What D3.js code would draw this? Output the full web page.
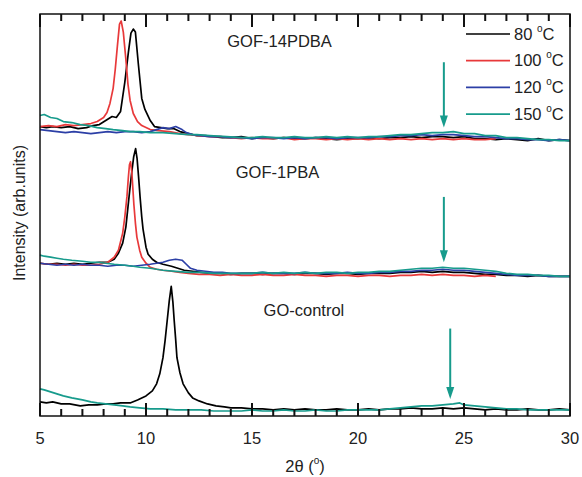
<!DOCTYPE html>
<html>
<head>
<meta charset="utf-8">
<script src="https://cdn.jsdelivr.net/npm/d3@7"></script>
<style>
  body { margin: 0; background: #fff; }
  text { font-family: "Liberation Sans", Arial, sans-serif; fill: #222; }
</style>
</head>
<body>
<div id="chart"></div>
<script>
// XRD patterns, 2theta (deg) vs stacked intensity (arb. units)
var temps = ["80", "100", "120", "150"];
var colors = ["#000000", "#e8393a", "#2c3fa6", "#179b8c"];
var xTicks = [5, 10, 15, 20, 25, 30];
var xMinor = [6, 7, 8, 9, 11, 12, 13, 14, 16, 17, 18, 19, 21, 22, 23, 24, 26, 27, 28, 29];

var groupNames = ["GOF-14PDBA", "GOF-1PBA", "GO-control"];
var groupLabelX = [16.3, 16.2, 17.45];
var groupLabelY = [373, 243, 105];

// arrows marking the broad hump: 2theta, start and end intensity
var arrowX = [24.05, 24.05, 24.35];
var arrowFrom = [352, 218, 87];
var arrowTo = [287, 153, 17];

// GOF-14PDBA
var top80 = [[5,288],[5.3,287],[5.6,288],[6,287],[6.4,288],[6.8,286],[7.2,287],[7.5,289],[7.8,290],[8.1,294],[8.4,298],[8.6,297],[8.8,303],[9.0,332],[9.17,362],[9.29,381],[9.4,385],[9.5,382],[9.64,350],[9.8,316],[9.95,305],[10.2,294],[10.4,288],[10.7,287],[11.0,286],[11.3,286],[11.6,283],[12.0,281],[12.4,279],[12.8,279],[13.2,278],[13.6,277],[14,277],[14.5,278],[15,276],[15.5,277],[16,276],[16.5,277],[17,276],[17.5,276],[18,277],[18.5,276],[19,275],[19.5,276],[20,276],[20.5,277],[21,276],[21.5,277],[22,277],[22.5,278],[23,277],[23.5,278],[24,278],[24.5,277],[25,278],[25.5,276],[26,276],[26.5,275],[27,276],[27.5,275],[28,274],[28.5,276],[29,274],[29.5,275],[30,274]];
var top100 = [[5,288],[5.4,289],[5.8,288],[6.2,290],[6.6,289],[7,290],[7.4,291],[7.7,293],[8,297],[8.16,302],[8.3,311],[8.45,326],[8.55,345],[8.65,368],[8.75,390],[8.83,393],[8.93,382],[9.05,355],[9.15,330],[9.25,314],[9.4,301],[9.6,293],[9.8,289],[10.2,285],[10.6,284],[11.1,283],[11.6,281],[12,280],[12.5,279],[13,278],[13.5,278],[14,277],[14.5,276],[15,277],[15.5,276],[16,276],[16.5,277],[17,275],[17.5,276],[18,276],[18.5,275],[19,276],[19.5,275],[20,276],[20.5,275],[21,276],[21.5,275],[22,276],[22.5,275],[23,276],[23.5,275],[24,276],[24.5,275],[25,276],[25.5,275],[26,275],[26.5,276]];
var top120 = [[5,285],[5.4,284],[5.8,283],[6.2,282],[6.6,283],[7,282],[7.4,281],[7.8,282],[8.2,283],[8.6,282],[9,283],[9.4,283],[9.8,282],[10.2,283],[10.5,285],[10.8,287],[11.1,286],[11.4,288],[11.7,285],[11.9,282],[12.2,280],[12.6,279],[13,278],[13.5,278],[14,277],[14.5,277],[15,276],[15.5,277],[16,277],[16.5,276],[17,277],[17.5,276],[18,277],[18.5,277],[19,276],[19.5,277],[20,277],[20.5,277],[21,278],[21.5,278],[22,279],[22.5,279],[23,280],[23.5,279],[24,280],[24.5,280],[25,279],[25.5,278],[26,278],[26.5,277],[27,276],[27.5,276],[28,275],[28.5,275],[29,274],[29.5,275],[30,274]];
var top150 = [[5,299],[5.2,300],[5.5,297],[5.8,296],[6.1,293],[6.5,292],[6.9,290],[7.3,289],[7.7,287],[8.1,286],[8.45,285],[8.9,284],[9.25,283],[9.7,283],[10.2,282],[10.8,282],[11.4,281],[12,280],[12.4,280],[13,279],[13.8,278],[14.5,277],[15,277],[15.5,278],[16,277],[16.5,277],[17,278],[17.5,277],[18,277],[18.5,278],[19,277],[19.5,278],[20,277],[20.5,278],[21,278],[21.5,279],[22,280],[22.5,280],[23,281],[23.5,282],[24,282],[24.5,283],[25,281],[25.5,281],[26,279],[26.5,279],[27,277],[27.5,277],[28,276],[28.5,275],[29,275],[29.5,274],[30,274]];

// GOF-1PBA
var mid80 = [[5,152],[5.4,151],[5.8,152],[6.2,151],[6.6,152],[7,151],[7.4,152],[7.8,153],[8.2,153],[8.5,156],[8.7,162],[8.9,172],[9.05,188],[9.15,208],[9.25,228],[9.33,243],[9.42,258],[9.51,266],[9.58,256],[9.65,238],[9.72,218],[9.8,198],[9.86,186],[10,168],[10.1,161],[10.3,156],[10.5,153],[10.8,151],[11.2,149],[11.5,147],[11.8,145],[12.2,144],[12.6,143],[13,142],[13.5,142],[14,141],[14.5,142],[15,142],[15.5,141],[16,142],[16.5,142],[17,141],[17.5,142],[18,142],[18.5,141],[19,142],[19.5,142],[20,141],[20.5,142],[21,142],[21.5,142],[22,143],[22.5,143],[23,144],[23.5,143],[24,144],[24.5,143],[25,143],[25.5,142],[26,141],[26.5,141],[27,140],[27.5,140],[28,139],[28.5,140],[29,139],[29.5,139],[30,139]];
var mid100 = [[5,152],[5.4,151],[5.8,151],[6.2,150],[6.6,151],[7,150],[7.4,150],[7.8,151],[8.2,153],[8.5,158],[8.7,165],[8.9,182],[9.0,198],[9.1,218],[9.17,238],[9.22,250],[9.27,253],[9.33,243],[9.43,210],[9.5,192],[9.57,178],[9.7,165],[9.8,158],[10,152],[10.2,148],[10.5,146],[10.8,145],[11.2,144],[11.6,143],[12,142],[12.5,141],[13,141],[13.5,140],[14,141],[14.5,140],[15,140],[15.5,141],[16,140],[16.5,140],[17,141],[17.5,140],[18,140],[18.5,139],[19,140],[19.5,140],[20,139],[20.5,140],[21,140],[21.5,139],[22,140],[22.5,140],[23,141],[23.5,140],[24,141],[24.5,140],[25,140],[25.5,139],[26,140],[26.5,139]];
var mid120 = [[5,152],[5.4,151],[5.8,150],[6.2,151],[6.6,150],[7,151],[7.4,150],[7.8,150],[8.2,149],[8.6,150],[9,150],[9.4,149],[9.8,150],[10.2,151],[10.5,152],[10.8,153],[11.1,155],[11.4,156],[11.7,155],[11.9,151],[12.1,147],[12.4,145],[12.8,144],[13.2,143],[13.6,143],[14,142],[14.5,142],[15,142],[15.5,143],[16,142],[16.5,142],[17,142],[17.5,143],[18,142],[18.5,142],[19,142],[19.5,143],[20,142],[20.5,142],[21,143],[21.5,143],[22,144],[22.5,144],[23,145],[23.5,145],[24,146],[24.5,145],[25,145],[25.5,144],[26,143],[26.5,142],[27,141],[27.5,140],[28,140],[28.5,140],[29,139],[29.5,139],[30,139]];
var mid150 = [[5,160],[5.2,159],[5.5,158],[5.8,157],[6.1,156],[6.5,155],[7,154],[7.4,153],[7.7,153],[8.1,152],[8.5,151],[9,150],[9.4,149],[9.7,148],[10.2,147],[10.8,145],[11.4,144],[12,143],[12.6,143],[13.2,142],[14,142],[14.5,142],[15,142],[15.5,143],[16,142],[16.5,143],[17,142],[17.5,143],[18,142],[18.5,143],[19,143],[19.5,142],[20,143],[20.5,143],[21,144],[21.5,144],[22,145],[22.5,146],[23,147],[23.5,147],[24,148],[24.5,147],[25,147],[25.5,146],[26,145],[26.5,144],[27,142],[27.5,141],[28,141],[28.5,140],[29,140],[29.5,139],[30,139]];

// GO-control
var go80 = [[5,14],[5.3,13],[5.6,14],[6,12],[6.4,12],[6.9,10],[7.3,11],[7.7,11],[8.1,12],[8.45,12],[8.8,13],[9.25,13],[9.6,16],[10,20],[10.3,25],[10.5,32],[10.65,42],[10.8,58],[10.9,75],[11.0,95],[11.1,115],[11.19,129],[11.27,113],[11.33,95],[11.4,76],[11.46,58],[11.6,43],[11.75,32],[12,23],[12.2,18],[12.5,15],[12.9,12],[13.3,10],[13.7,9],[14,8],[14.5,8],[15,7],[15.5,7],[16,6],[16.5,7],[17,6],[17.5,7],[18,6],[18.5,6],[19,7],[19.5,6],[20,6],[20.5,7],[21,6],[21.5,7],[22,7],[22.5,8],[23,7],[23.5,7],[24,8],[24.5,7],[25,8],[25.5,7],[26,6],[26.5,7],[27,6],[27.5,6],[28,7],[28.5,6],[29,6],[29.5,7],[30,6]];
var go150 = [[5,27],[5.2,26],[5.5,24],[5.8,22],[6.1,20],[6.5,18],[7,16],[7.4,14],[7.7,13],[8.1,12],[8.5,11],[8.9,10],[9.25,9],[9.7,8],[10.2,7],[10.8,7],[11.4,6],[12,6],[12.6,6],[13.2,5],[14,5],[14.5,5],[15,6],[15.5,5],[16,5],[16.5,6],[17,5],[17.5,5],[18,6],[18.5,5],[19,5],[19.5,6],[20,6],[20.5,6],[21,6],[21.5,7],[22,8],[22.5,9],[23,10],[23.5,10],[24,11],[24.5,12],[24.8,13],[25,11],[25.5,10],[26,9],[26.5,8],[27,7],[27.5,7],[28,6],[28.5,6],[29,6],[29.5,6],[30,6]];

var curves = [
  [top80, 0], [top100, 1], [top120, 2], [top150, 3],
  [mid80, 0], [mid100, 1], [mid120, 2], [mid150, 3],
  [go80, 0], [go150, 3]
];

var width = 582, height = 477;
var margin = {top: 14, right: 12, bottom: 61, left: 40};

var x = d3.scaleLinear().domain([5, 30]).range([margin.left, width - margin.right]);
var y = d3.scaleLinear().domain([0, 400]).range([height - margin.bottom, margin.top]);

var svg = d3.select("#chart").append("svg")
    .attr("width", width)
    .attr("height", height);

var line = d3.line()
    .x(function(d) { return x(d[0]); })
    .y(function(d) { return y(d[1]); });

svg.append("g")
  .selectAll("path")
  .data(curves)
  .enter().append("path")
    .attr("d", function(d) { return line(d[0]); })
    .attr("fill", "none")
    .attr("stroke", function(d) { return colors[d[1]]; })
    .attr("stroke-width", 1.7)
    .attr("stroke-linejoin", "round");

// arrows
var arrows = svg.append("g").attr("fill", colors[3]).attr("stroke", colors[3]);
arrowX.forEach(function(ax, i) {
  var px = x(ax), y0 = y(arrowFrom[i]), y1 = y(arrowTo[i]);
  arrows.append("line")
    .attr("x1", px).attr("x2", px)
    .attr("y1", y0).attr("y2", y1 - 10)
    .attr("stroke-width", 2);
  arrows.append("path")
    .attr("stroke", "none")
    .attr("d", "M" + (px - 4) + "," + (y1 - 12) + "L" + (px + 4) + "," + (y1 - 12) + "L" + px + "," + y1 + "Z");
});

// frame with inward ticks on bottom and top, no y ticks
var bottomY = height - margin.bottom, topY = margin.top;
var allTicks = xTicks.concat(xMinor);
var tickLen = function(t) { return xTicks.indexOf(t) >= 0 ? 13 : 7; };
var tickPath = "";
allTicks.forEach(function(t) {
  var px = x(t);
  tickPath += "M" + px + "," + bottomY + "V" + (bottomY - tickLen(t));
  tickPath += "M" + px + "," + topY + "V" + (topY + tickLen(t));
});
svg.append("path")
    .attr("d", tickPath)
    .attr("fill", "none")
    .attr("stroke", "#111")
    .attr("stroke-width", 2);

svg.append("g")
  .selectAll("text")
  .data(xTicks)
  .enter().append("text")
    .attr("x", function(d) { return x(d); })
    .attr("y", 444)
    .attr("text-anchor", "middle")
    .style("font-size", "16.5px")
    .text(function(d) { return d; });

svg.append("rect")
    .attr("x", margin.left)
    .attr("y", margin.top)
    .attr("width", width - margin.left - margin.right)
    .attr("height", height - margin.top - margin.bottom)
    .attr("fill", "none")
    .attr("stroke", "#111")
    .attr("stroke-width", 1.5);

// axis titles
var xt = svg.append("text")
    .attr("x", x(17.5))
    .attr("y", 472)
    .attr("text-anchor", "middle")
    .style("font-size", "16.5px");
xt.append("tspan").text("2\u03b8 (");
xt.append("tspan").text("o").style("font-size", "10px").attr("dy", -8);
xt.append("tspan").text(")").attr("dy", 8);

svg.append("text")
    .attr("transform", "translate(25,213)rotate(-90)")
    .attr("text-anchor", "middle")
    .style("font-size", "16px")
    .text("Intensity (arb.units)");

// sample labels
groupNames.forEach(function(name, i) {
  svg.append("text")
    .attr("x", x(groupLabelX[i]))
    .attr("y", y(groupLabelY[i]))
    .attr("text-anchor", "middle")
    .attr("dy", "0.35em")
    .style("font-size", "16.5px")
    .text(name);
});

// legend
var legend = svg.append("g")
  .selectAll("g")
  .data(temps)
  .enter().append("g")
    .attr("transform", function(d, i) { return "translate(466," + (34 + i * 26.7) + ")"; });
legend.append("line")
    .attr("x1", 0).attr("x2", 44)
    .attr("stroke", function(d, i) { return colors[i]; })
    .attr("stroke-width", 1.7);
var lt = legend.append("text")
    .attr("x", 48)
    .attr("dy", "0.35em")
    .style("font-size", "16.5px");
lt.append("tspan").text(function(d) { return d + " "; });
lt.append("tspan").text("o").style("font-size", "10px").attr("dy", -8);
lt.append("tspan").text("C").attr("dy", 8);
</script>
</body>
</html>
